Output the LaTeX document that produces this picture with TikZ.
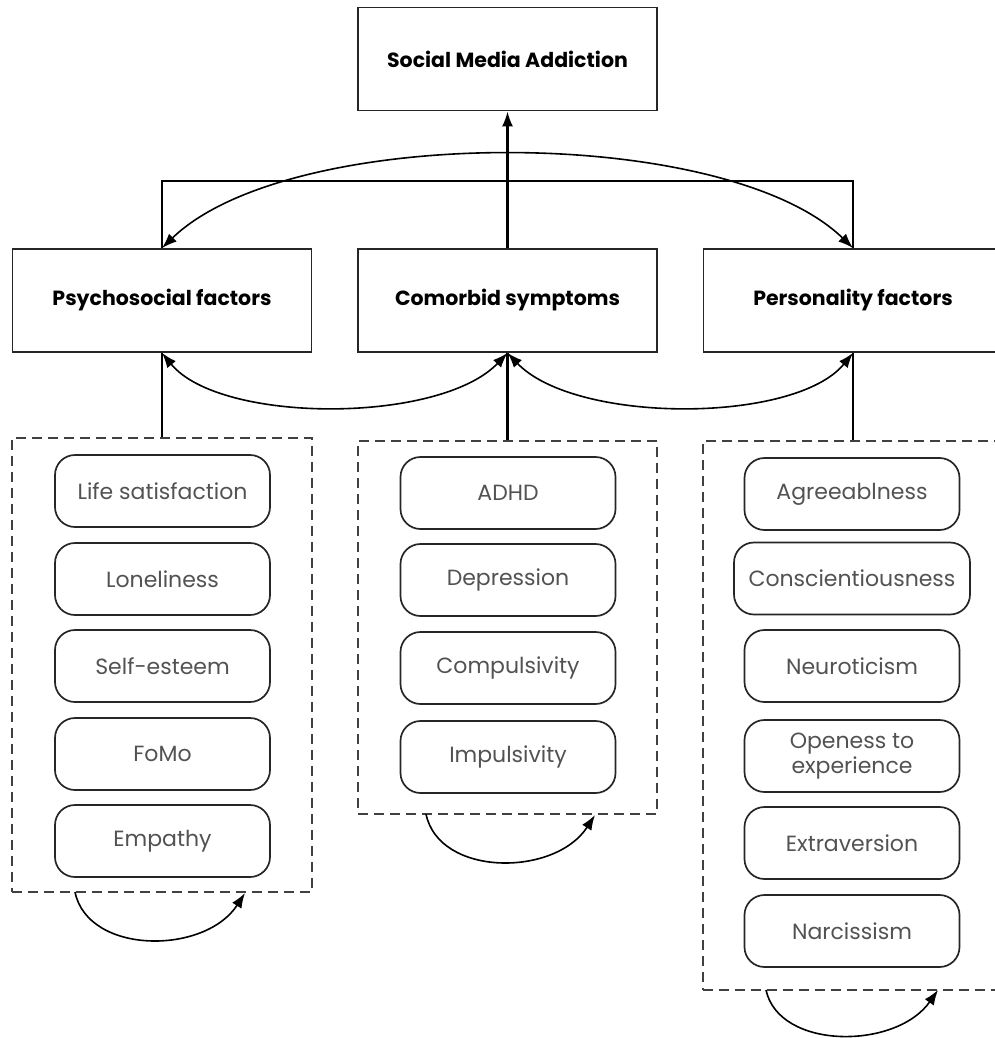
\documentclass[tikz,border=0pt]{standalone}
\usepackage{fontspec}
\setmainfont{Poppins}
\usetikzlibrary{arrows.meta}
\begin{document}
\begin{tikzpicture}[x=1pt,y=-1pt,
  mainbox/.style={draw=black!85, line width=1.8pt, minimum width=299pt, minimum height=103pt,
    font=\fontsize{20.5}{24}\selectfont\bfseries, inner sep=0pt},
  groupbox/.style={draw=black!75, line width=1.8pt, dash pattern=on 10pt off 6pt, inner sep=0pt, minimum width=300pt},
  item/.style={draw=black!85, line width=1.7pt, rounded corners=20pt, minimum width=215pt, minimum height=72pt,
    text=black!68, font=\fontsize{22}{26}\selectfont, align=center, inner sep=0pt},
  link/.style={line width=2.2pt},
  tip/.tip={Latex[length=15pt,width=11pt]},
  arr/.style={line width=2.2pt, -tip},
  darr/.style={line width=1.6pt, tip-tip},
  loop/.style={line width=1.6pt, -tip}
]
\useasboundingbox (0,0) rectangle (994,1038);

% main boxes
\node[mainbox] (sma) at (507.5,59) {Social Media Addiction};
\node[mainbox] (psy) at (162,300.5) {Psychosocial factors};
\node[mainbox] (com) at (507.5,300.5) {Comorbid symptoms};
\node[mainbox] (per) at (853,300.5) {Personality factors};

% group boxes
\node[groupbox, minimum height=454pt] (g1) at (162,665) {};
\node[groupbox, minimum width=299pt, minimum height=373pt] (g2) at (507.5,627.5) {};
\node[groupbox, minimum height=549pt] (g3) at (853,715.5) {};

% items left
\node[item] (ls) at (162.5,491) {Life satisfaction};
\node[item] (lo) at (162.5,579) {Loneliness};
\node[item] (se) at (162.5,666) {Self-esteem};
\node[item] (fo) at (162.5,754) {FoMo};
\node[item] (em) at (162.5,841) {Empathy};

% items middle
\node[item] (ad) at (508,493) {ADHD};
\node[item] (de) at (508,580) {Depression};
\node[item] (cp) at (508,668) {Compulsivity};
\node[item] (im) at (508,757) {Impulsivity};

% items right
\node[item] (ag) at (852,494) {Agreeablness};
\node[item, minimum width=236pt] (co) at (852,578.5) {Conscientiousness};
\node[item] (ne) at (852,666) {Neuroticism};
\node[item] (op) at (852,756) {Openess to\\[-1pt]experience};
\node[item] (ex) at (852,843) {Extraversion};
\node[item] (na) at (852,931) {Narcissism};

% connectors
\draw[arr] (com.north) -- (sma.south);
\coordinate (br) at (507,181);
\draw[link] (psy.north) -- (psy.north |- br) -- (per.north |- br) -- (per.north);
\draw[darr] (psy.north) .. controls (290,124) and (725,124) .. (per.north);

\draw[darr] (psy.south) .. controls (220,424) and (440,424) .. (com.south);
\draw[darr] (com.south) .. controls (575,424) and (795,424) .. (per.south);

\draw[link] (g1.north) -- (psy.south);
\draw[link] (g2.north) -- (com.south);
\draw[link] (g3.north) -- (per.south);

% self loops
\coordinate (l1a) at (75,892);
\coordinate (l1b) at (245,893);
\draw[loop] (l1a) .. controls (88,955) and (205,955) .. (l1b);
\coordinate (l2a) at (426,814);
\coordinate (l2b) at (595,815);
\draw[loop] (l2a) .. controls (439,877) and (555,877) .. (l2b);
\coordinate (l3a) at (766,990);
\coordinate (l3b) at (938,990);
\draw[loop] (l3a) .. controls (779,1050) and (896,1050) .. (l3b);
\end{tikzpicture}
\end{document}
